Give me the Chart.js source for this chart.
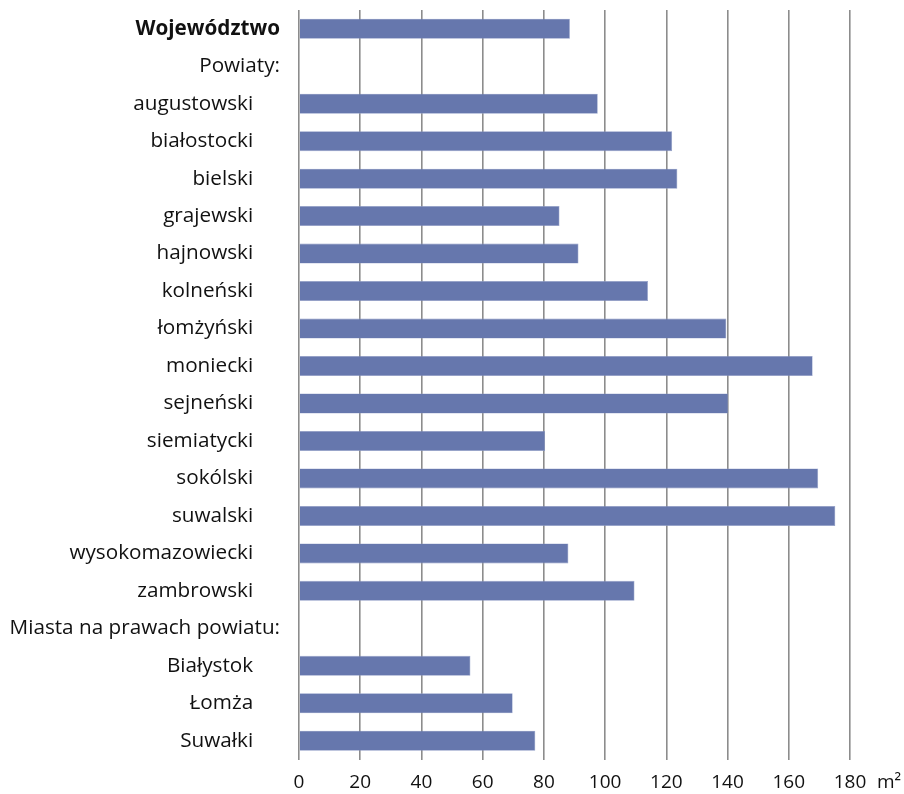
<!DOCTYPE html>
<html>
<head>
<meta charset="utf-8">
<script src="https://cdn.jsdelivr.net/npm/chart.js@4"></script>
<style>
  html, body { margin: 0; padding: 0; background: #fff; }
  #wrap { width: 904px; height: 794px; }
</style>
</head>
<body>
<div id="wrap"><canvas id="chart" width="904" height="794"></canvas></div>
<script>
// kategorie (od góry)
const categories = ['Województwo', 'Powiaty:', 'augustowski', 'białostocki', 'bielski',
  'grajewski', 'hajnowski', 'kolneński', 'łomżyński', 'moniecki', 'sejneński',
  'siemiatycki', 'sokólski', 'suwalski', 'wysokomazowiecki', 'zambrowski',
  'Miasta na prawach powiatu:', 'Białystok', 'Łomża', 'Suwałki'];
// nagłówki grup - bez wcięcia
const headers = ['Województwo', 'Powiaty:', 'Miasta na prawach powiatu:'];
// wartości (m2)
const values = [88.5, null, 97.6, 121.9, 123.6, 85.1, 91.3, 114.0, 139.6, 167.8, 140.2,
  80.4, 169.6, 175.2, 88.0, 109.6, null, 56.0, 69.8, 77.2];
const xTicks = [0, 20, 40, 60, 80, 100, 120, 140, 160, 180];
const unit = 'm²';

const FONT = "'Open Sans', 'Noto Sans', sans-serif";

// jednostka obok osi X
const unitLabel = {
  id: 'unitLabel',
  afterDraw(chart) {
    const sx = chart.scales.x;
    const ctx = chart.ctx;
    ctx.save();
    ctx.font = '19px ' + FONT;
    ctx.fillStyle = '#111';
    ctx.textAlign = 'left';
    ctx.textBaseline = 'middle';
    ctx.fillText(unit, sx.right + 27, sx.top + 12 + 11.4);
    ctx.restore();
  }
};

const ctx = document.getElementById('chart').getContext('2d');
new Chart(ctx, {
  type: 'bar',
  data: {
    labels: categories,
    datasets: [{
      data: values,
      backgroundColor: '#6677ad',
      borderColor: '#8f9cc6',
      borderWidth: 0.6,
      categoryPercentage: 1,
      barPercentage: 0.534
    }]
  },
  options: {
    indexAxis: 'y',
    responsive: false,
    animation: false,
    layout: { padding: { top: 10, right: 54, bottom: 0, left: 0 } },
    plugins: { legend: { display: false }, tooltip: { enabled: false } },
    scales: {
      x: {
        min: 0,
        max: 180,
        afterBuildTicks: (s) => { s.ticks = xTicks.map(v => ({ value: v })); },
        afterFit: (s) => { s.height = 34.5; s.paddingLeft = 0; s.paddingRight = 0; s.paddingBottom = 0; },
        grid: { color: '#8c8c8c', lineWidth: 1.6, drawTicks: false },
        border: { display: false },
        ticks: { padding: 12, color: '#111', font: { family: FONT, size: 19 } }
      },
      y: {
        afterFit: (s) => { s.width = 299; s.paddingTop = 0; s.paddingBottom = 0; },
        grid: { display: false, drawTicks: false },
        border: { display: false },
        ticks: {
          padding: 19,
          color: '#111',
          autoSkip: false,
          font: (c) => ({ family: FONT, size: 20.7, weight: c.index === 0 ? 'bold' : 'normal' }),
          callback: function (v, i) {
            const l = categories[i];
            return headers.includes(l) ? l : l + '     ';
          }
        }
      }
    }
  },
  plugins: [unitLabel]
});
</script>
</body>
</html>
